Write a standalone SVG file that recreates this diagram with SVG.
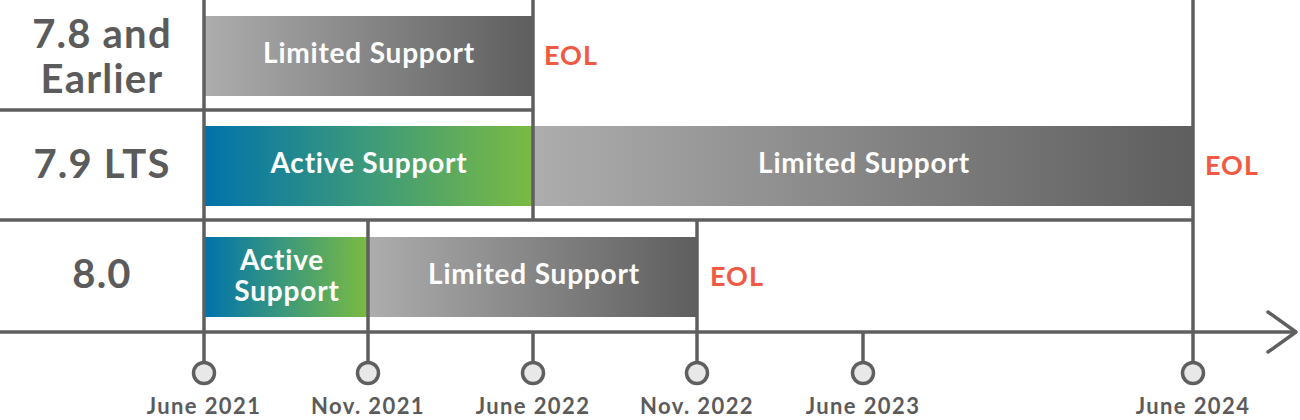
<svg xmlns="http://www.w3.org/2000/svg" width="1300" height="420" viewBox="0 0 1300 420">
<defs>
<linearGradient id="gLim" x1="0" y1="0" x2="1" y2="0">
<stop offset="0" stop-color="#adadad"/>
<stop offset="1" stop-color="#5e5e5e"/>
</linearGradient>
<linearGradient id="gAct" x1="0" y1="0" x2="1" y2="0">
<stop offset="0" stop-color="#0072ab"/>
<stop offset="0.5" stop-color="#3d9a7a"/>
<stop offset="1" stop-color="#7bba42"/>
</linearGradient>
<style>
.ln{stroke:#5f5f5f;stroke-width:3.5;fill:none}
.dot{fill:#e8e8e8;stroke:#5f5f5f;stroke-width:3.5}
.ver{font-family:Lato,"Liberation Sans",sans-serif;font-weight:700;font-size:40px;letter-spacing:1.2px;fill:#5b5b5b;text-anchor:middle}
.bar{font-family:Lato,"Liberation Sans",sans-serif;font-weight:700;font-size:28px;letter-spacing:0.8px;fill:#ffffff;text-anchor:middle}
.eol{font-family:Lato,"Liberation Sans",sans-serif;font-weight:700;font-size:27px;letter-spacing:1px;fill:#f05a42}
.date{font-family:Lato,"Liberation Sans",sans-serif;font-weight:700;font-size:22px;letter-spacing:1.4px;fill:#5b5b5b;text-anchor:middle}
</style>
</defs>
<g id="bars">
<rect x="204" y="16" width="329" height="80" fill="url(#gLim)"/>
<rect x="204" y="126" width="329" height="80" fill="url(#gAct)"/>
<rect x="533" y="126" width="660" height="80" fill="url(#gLim)"/>
<rect x="204" y="237" width="164" height="80" fill="url(#gAct)"/>
<rect x="368" y="237" width="329" height="80" fill="url(#gLim)"/>
</g>
<g id="connectors">
<line class="ln" x1="0" y1="110" x2="533" y2="110"/>
<line class="ln" x1="0" y1="220" x2="1193" y2="220"/>
<line class="ln" x1="0" y1="332" x2="1296" y2="332"/>
<polyline class="ln" points="1268,312 1296,332 1268,352" stroke-linecap="round" stroke-linejoin="round"/>
<line class="ln" x1="204" y1="0" x2="204" y2="362"/>
<line class="ln" x1="368" y1="220" x2="368" y2="362"/>
<line class="ln" x1="533" y1="0" x2="533" y2="220"/>
<line class="ln" x1="533" y1="332" x2="533" y2="362"/>
<line class="ln" x1="697" y1="220" x2="697" y2="362"/>
<line class="ln" x1="863" y1="332" x2="863" y2="362"/>
<line class="ln" x1="1193" y1="0" x2="1193" y2="362"/>
</g>
<g id="row-78">
<text class="ver" x="102" y="48">7.8 and</text>
<text class="ver" x="102" y="93">Earlier</text>
<text class="bar" x="369" y="63">Limited Support</text>
<text class="eol" x="544" y="65">EOL</text>
</g>
<g id="row-79">
<text class="ver" x="102" y="178">7.9 LTS</text>
<text class="bar" x="369" y="173">Active Support</text>
<text class="bar" x="864" y="173">Limited Support</text>
<text class="eol" x="1205" y="175">EOL</text>
</g>
<g id="row-80">
<text class="ver" x="102" y="288">8.0</text>
<text class="bar" x="282" y="270">Active</text>
<text class="bar" x="287" y="301">Support</text>
<text class="bar" x="534" y="284">Limited Support</text>
<text class="eol" x="710" y="286">EOL</text>
</g>
<g id="milestones">
<circle class="dot" cx="204" cy="373" r="10.5"/>
<circle class="dot" cx="368" cy="373" r="10.5"/>
<circle class="dot" cx="533" cy="373" r="10.5"/>
<circle class="dot" cx="697" cy="373" r="10.5"/>
<circle class="dot" cx="863" cy="373" r="10.5"/>
<circle class="dot" cx="1193" cy="373" r="10.5"/>
<text class="date" x="204" y="414">June 2021</text>
<text class="date" x="368" y="414">Nov. 2021</text>
<text class="date" x="533" y="414">June 2022</text>
<text class="date" x="697" y="414">Nov. 2022</text>
<text class="date" x="863" y="414">June 2023</text>
<text class="date" x="1193" y="414">June 2024</text>
</g>
</svg>
